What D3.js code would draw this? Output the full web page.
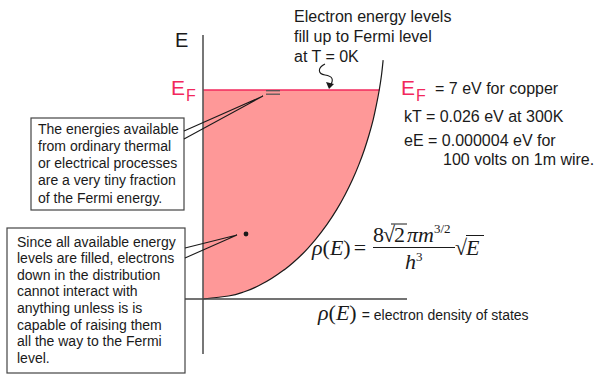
<!DOCTYPE html>
<html>
<head>
<meta charset="utf-8">
<script src="https://cdn.jsdelivr.net/npm/d3@7"></script>
<style>
  body { margin: 0; background: #fff; }
  svg { display: block; }
  .sans { font-family: "Liberation Sans", Arial, Helvetica, sans-serif; fill: #1a1a1a; }
  .serif { font-family: "Liberation Serif", "Times New Roman", serif; fill: #1a1a1a; }
</style>
</head>
<body>
<div id="chart"></div>
<script>
// energy (eV) and density of states (arbitrary units)
const energyLevels = [0, 0.1, 0.25, 0.5, 1, 1.5, 2, 2.5, 3, 3.5, 4, 4.5, 5, 5.5, 6, 6.5, 7, 7.5, 8]
const densityValues = [0, 1.25, 2.06, 2.88, 4.02, 4.86, 5.52, 6.08, 6.56, 6.97, 7.33, 7.64, 7.91, 8.14, 8.34, 8.5, 8.64, 8.75, 8.83]
const fermiEnergy = 7

const topNote = ['Electron energy levels', 'fill up to Fermi level', 'at T = 0K']
const thermalNote = ['The energies available', 'from ordinary thermal', 'or electrical processes', 'are a very tiny fraction', 'of the Fermi energy.']
const filledNote = ['Since all available energy', 'levels are filled, electrons', 'down in the distribution', 'cannot interact with', 'anything unless is is', 'capable of raising them', 'all the way to the Fermi', 'level.']
const sideNotes = ['kT = 0.026 eV at 300K', 'eE = 0.000004 eV for', '100 volts on 1m wire.']

const width = 603
const height = 389
const pink = '#f2285c'

const svg = d3.select('#chart').append('svg')
  .attr('width', width)
  .attr('height', height)

const x = d3.scaleLinear().domain([0, 10]).range([203, 407])
const y = d3.scaleLinear().domain([0, fermiEnergy]).range([299, 90])

const pts = energyLevels.map((e, i) => ({ e, d: densityValues[i] }))
const filled = pts.filter(p => p.e <= fermiEnergy)

// filled states
svg.append('path')
  .datum(filled)
  .attr('fill', '#fe9898')
  .attr('d', d3.area()
    .curve(d3.curveMonotoneY)
    .y(p => y(p.e))
    .x0(x(0))
    .x1(p => x(p.d)))

// fermi level
svg.append('line')
  .attr('x1', x(0)).attr('x2', x(filled[filled.length - 1].d))
  .attr('y1', y(fermiEnergy)).attr('y2', y(fermiEnergy))
  .attr('stroke', pink).attr('stroke-width', 1.4)

// density of states curve
svg.append('path')
  .datum(pts)
  .attr('fill', 'none')
  .attr('stroke', '#1a1a1a')
  .attr('stroke-width', 1.2)
  .attr('d', d3.line()
    .curve(d3.curveMonotoneY)
    .y(p => y(p.e))
    .x(p => x(p.d)))

// axes
svg.append('line')
  .attr('x1', x(0)).attr('x2', x(0))
  .attr('y1', 35).attr('y2', 354)
  .attr('stroke', '#555').attr('stroke-width', 1.6)
svg.append('line')
  .attr('x1', 185).attr('x2', x(10))
  .attr('y1', y(0)).attr('y2', y(0))
  .attr('stroke', '#444').attr('stroke-width', 1.3)

svg.append('text').attr('class', 'sans')
  .attr('x', 175).attr('y', 47)
  .attr('font-size', 20)
  .text('E')

// E_F labels
function eF (g, x0, y0) {
  const t = g.append('text').attr('class', 'sans')
    .attr('x', x0).attr('y', y0)
    .style('fill', pink)
    .attr('font-size', 21)
  t.append('tspan').text('E')
  t.append('tspan').attr('font-size', 16).attr('dy', 6).attr('dx', 1).text('F')
}
eF(svg, 171, 95)
eF(svg, 401, 95)

svg.append('text').attr('class', 'sans')
  .attr('x', 435).attr('y', 94)
  .attr('font-size', 16)
  .text('= 7 eV for copper')

svg.selectAll('.side')
  .data(sideNotes)
  .join('text')
  .attr('class', 'sans side')
  .attr('x', (d, i) => i === 2 ? 443 : 404)
  .attr('y', (d, i) => [121.5, 146, 164.5][i])
  .attr('font-size', 16)
  .text(d => d)

// top note with squiggle arrow
svg.selectAll('.top')
  .data(topNote)
  .join('text')
  .attr('class', 'sans top')
  .attr('x', 294)
  .attr('y', (d, i) => 21.5 + i * 20)
  .attr('font-size', 16)
  .text(d => d)

svg.append('path')
  .attr('d', 'M 325 64 C 317 68, 318 74, 325 75 C 333 76, 334 80, 330 86')
  .attr('fill', 'none').attr('stroke', '#1a1a1a').attr('stroke-width', 1.1)
svg.append('path')
  .attr('d', 'M 329 89 L 326 82 L 334 84 Z')
  .attr('fill', '#1a1a1a')

// tiny energy band near the fermi level
svg.selectAll('.band')
  .data([90.7, 94.2])
  .join('line')
  .attr('class', 'band')
  .attr('x1', 266).attr('x2', 280)
  .attr('y1', d => d).attr('y2', d => d)
  .attr('stroke', '#555').attr('stroke-width', 1.3)

// electron deep in the distribution
svg.append('circle')
  .attr('cx', 246).attr('cy', 234).attr('r', 2.4)
  .attr('fill', '#1a1a1a')

// callouts
function callout (lines, box, tip, from) {
  svg.append('rect')
    .attr('x', box[0]).attr('y', box[1])
    .attr('width', box[2]).attr('height', box[3])
    .attr('fill', '#fff').attr('stroke', '#444').attr('stroke-width', 1.2)
  svg.append('path')
    .attr('d', `M ${box[0] + box[2]} ${from[0]} L ${tip[0]} ${tip[1]} L ${box[0] + box[2]} ${from[1]}`)
    .attr('fill', 'none').attr('stroke', '#1a1a1a').attr('stroke-width', 1.1)
  svg.append('g').selectAll('text')
    .data(lines)
    .join('text')
    .attr('class', 'sans')
    .attr('x', box[0] + box[4])
    .attr('y', (d, i) => box[1] + box[5] + i * box[6])
    .attr('font-size', 14)
    .text(d => d)
}
callout(thermalNote, [31, 118, 153, 92, 7, 15.5, 17.3], [263, 96], [131, 139])
callout(filledNote, [7, 228, 178, 145, 10, 18.5, 16.6], [237, 235], [248, 258])

// formula
const fs = 22
const f = svg.append('g').attr('class', 'serif')
const lhs = f.append('text').attr('x', 312).attr('y', 255).attr('font-size', fs)
lhs.append('tspan').attr('font-style', 'italic').text('ρ')
lhs.append('tspan').text('(')
lhs.append('tspan').attr('font-style', 'italic').text('E')
lhs.append('tspan').text(')')
lhs.append('tspan').attr('dx', 3).text('=')

const num = f.append('text').attr('x', 373).attr('y', 241.5).attr('font-size', fs)
num.append('tspan').text('8')
num.append('tspan').attr('dx', -1).text('√')
num.append('tspan').attr('dx', -1).text('2')
num.append('tspan').attr('dx', 2).attr('font-style', 'italic').text('πm')
num.append('tspan').attr('font-size', 13).attr('dy', -9).text('3/2')
f.append('line').attr('x1', 391).attr('x2', 407).attr('y1', 224).attr('y2', 224)
  .attr('stroke', '#1a1a1a').attr('stroke-width', 1)

f.append('line').attr('x1', 373).attr('x2', 455).attr('y1', 247.5).attr('y2', 247.5)
  .attr('stroke', '#1a1a1a').attr('stroke-width', 1)

const den = f.append('text').attr('x', 405).attr('y', 269).attr('font-size', fs)
den.append('tspan').attr('font-style', 'italic').text('h')
den.append('tspan').attr('font-size', 13).attr('dy', -8).text('3')

const rt = f.append('text').attr('x', 455).attr('y', 255).attr('font-size', fs)
rt.append('tspan').text('√')
rt.append('tspan').attr('dx', -1).attr('font-style', 'italic').text('E')
f.append('line').attr('x1', 466).attr('x2', 484).attr('y1', 235.5).attr('y2', 235.5)
  .attr('stroke', '#1a1a1a').attr('stroke-width', 1)

const leg = svg.append('text').attr('x', 318).attr('y', 320)
leg.append('tspan').attr('class', 'serif').attr('font-size', fs).attr('font-style', 'italic').text('ρ')
leg.append('tspan').attr('class', 'serif').attr('font-size', fs).text('(')
leg.append('tspan').attr('class', 'serif').attr('font-size', fs).attr('font-style', 'italic').text('E')
leg.append('tspan').attr('class', 'serif').attr('font-size', fs).text(')')
leg.append('tspan').attr('class', 'sans').attr('font-size', 14).attr('dx', 5).text('= electron density of states')
</script>
</body>
</html>
